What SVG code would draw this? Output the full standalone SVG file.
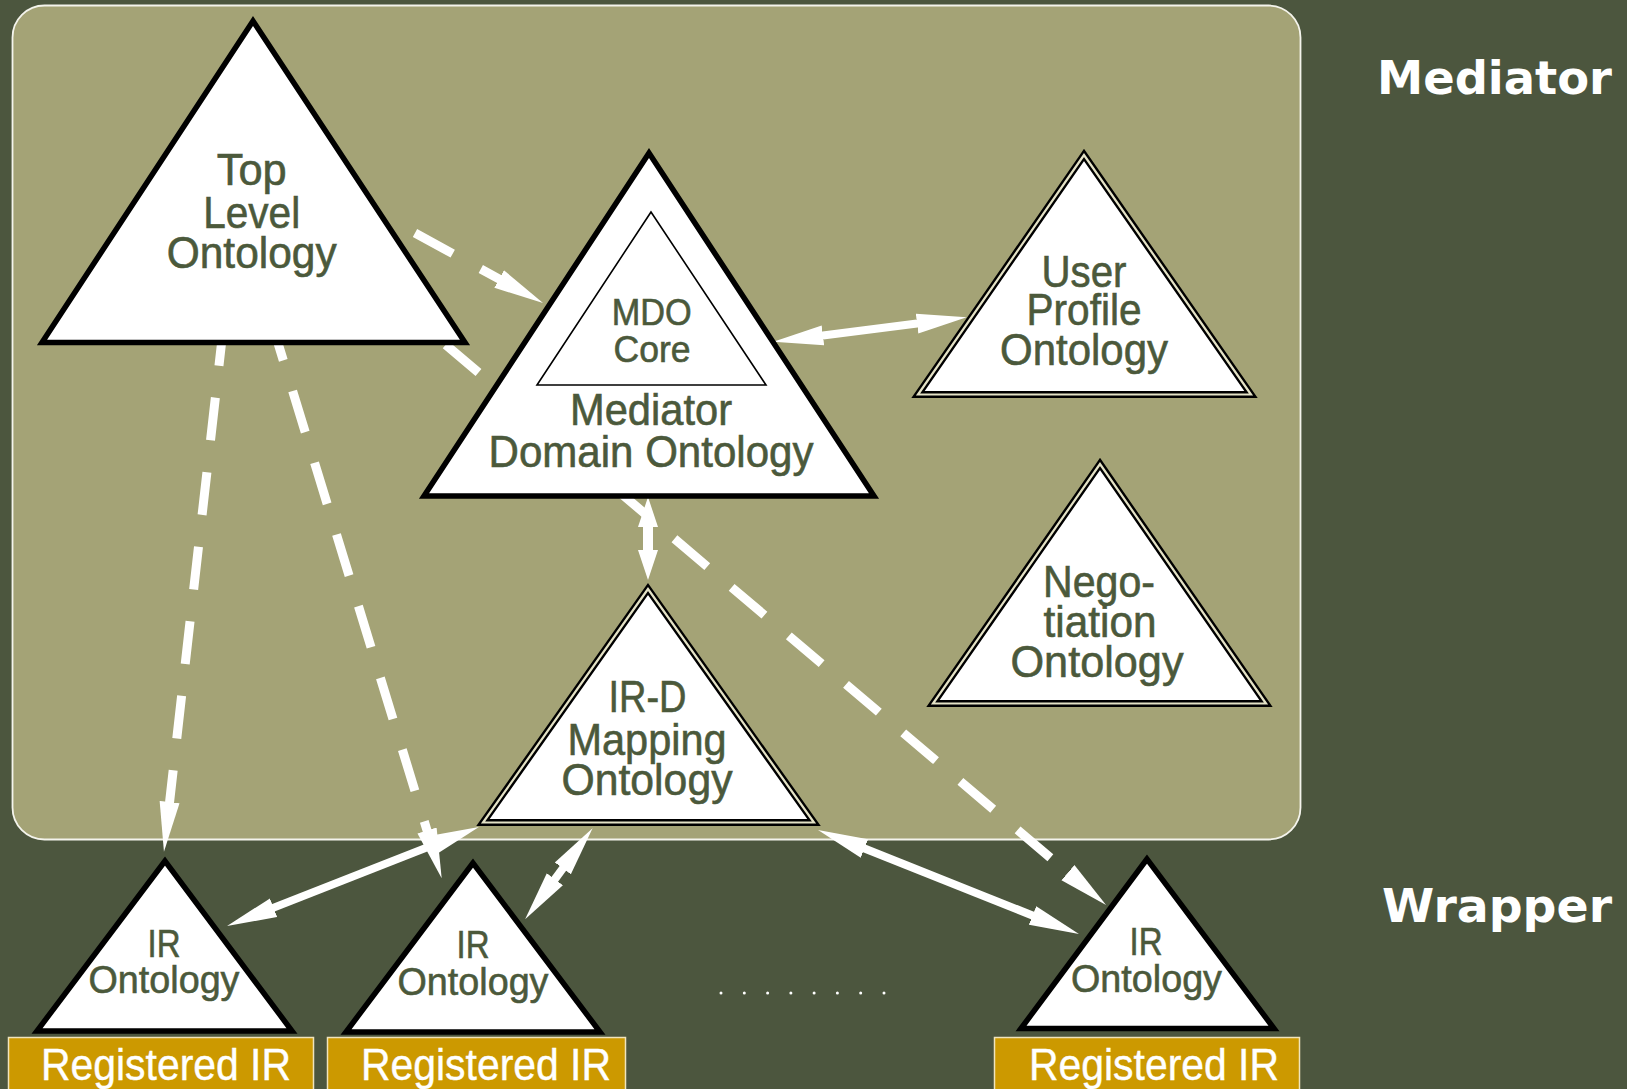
<svg xmlns="http://www.w3.org/2000/svg" width="1627" height="1089" viewBox="0 0 1627 1089">
<style>
.lbl{font-family:"Liberation Sans",Arial,sans-serif;fill:#4b593b;stroke:#4b593b;stroke-width:0.6;text-anchor:middle;}
.f44{font-size:44px;}
.f37{font-size:37px;}
.f39{font-size:39px;}
.reg{font-family:"Liberation Sans",Arial,sans-serif;font-size:44px;fill:#ffffff;stroke:#ffffff;stroke-width:0.4;}
.side{font-family:"DejaVu Sans",Verdana,sans-serif;font-weight:bold;font-size:47px;fill:#ffffff;text-anchor:end;}
.tri{fill:#ffffff;stroke:#000000;stroke-width:5.5;stroke-linejoin:miter;}
.dbl{fill:#ffffff;stroke:#000000;stroke-width:7;stroke-linejoin:miter;}
.dblin{fill:none;stroke:#e4e2c6;stroke-width:2.2;stroke-linejoin:miter;}
.dash{fill:none;stroke:#ffffff;stroke-width:9;stroke-dasharray:43 32;}
.solid{fill:none;stroke:#ffffff;stroke-width:8;}
.box{fill:#cc9900;stroke:#f0e4bc;stroke-width:1.5;}
</style>
<defs>
<marker id="ah" viewBox="0 -11 51 22" refX="6" refY="0" markerWidth="51" markerHeight="22" markerUnits="userSpaceOnUse" orient="auto-start-reverse">
<path d="M0,-10 L50,0 L0,10 z" fill="#ffffff"/>
</marker>
<marker id="ah2" viewBox="0 -11 31 22" refX="4" refY="0" markerWidth="31" markerHeight="22" markerUnits="userSpaceOnUse" orient="auto-start-reverse">
<path d="M0,-10 L30,0 L0,10 z" fill="#ffffff"/>
</marker>
</defs>
<rect x="0" y="0" width="1627" height="1089" fill="#4c563e"/>
<rect id="mediator-panel" x="12.5" y="5.5" width="1288" height="834" rx="32" ry="32" fill="#a4a376" stroke="#f4f4ec" stroke-width="1.8"/>
<text class="side" x="1612" y="94" textLength="235" lengthAdjust="spacingAndGlyphs">Mediator</text>
<text class="side" x="1612" y="922" textLength="230" lengthAdjust="spacingAndGlyphs">Wrapper</text>

<g id="connectors">
<path class="dash" d="M415,233 L504.4,281.9" marker-end="url(#ah)"/>
<path class="dash" d="M445.7,344.7 L1072.5,876.5" marker-end="url(#ah)"/>
<path class="dash" d="M223.8,323.1 L168.9,808" marker-end="url(#ah)"/>
<path class="dash" d="M270.7,319.3 L428.8,836.2" marker-end="url(#ah)"/>
<path class="solid" d="M438,843.1 L268,909.9" marker-start="url(#ah)" marker-end="url(#ah)"/>
<path class="solid" d="M566.4,863.6 L551.3,884" marker-start="url(#ah)" marker-end="url(#ah)"/>
<path class="solid" d="M858.9,846.3 L1038.1,917.7" marker-start="url(#ah)" marker-end="url(#ah)"/>
<path class="solid" d="M817,336.2 L923,322.8" marker-start="url(#ah)" marker-end="url(#ah)"/>
<path class="solid" style="stroke-width:10" d="M648,523 L648,554" marker-start="url(#ah2)" marker-end="url(#ah2)"/>
</g>

<g id="top-level-ontology">
<polygon class="tri" points="253,21 42,342.5 465,342.5"/>
<text class="lbl f44" x="251.7" y="185" textLength="70" lengthAdjust="spacingAndGlyphs">Top</text>
<text class="lbl f44" x="251.7" y="228" textLength="97" lengthAdjust="spacingAndGlyphs">Level</text>
<text class="lbl f44" x="251.7" y="268" textLength="170" lengthAdjust="spacingAndGlyphs">Ontology</text>
</g>

<g id="mediator-domain-ontology">
<polygon class="tri" points="649,153 424,496 874,496"/>
<polygon points="651,212 537,385 766,385" fill="#ffffff" stroke="#000000" stroke-width="1.6"/>
<text class="lbl f37" x="651.7" y="325" textLength="80" lengthAdjust="spacingAndGlyphs">MDO</text>
<text class="lbl f37" x="652" y="362" textLength="77" lengthAdjust="spacingAndGlyphs">Core</text>
<text class="lbl f44" x="651" y="425" textLength="162" lengthAdjust="spacingAndGlyphs">Mediator</text>
<text class="lbl f44" x="651" y="467" textLength="325" lengthAdjust="spacingAndGlyphs">Domain Ontology</text>
</g>

<g id="user-profile-ontology">
<polygon class="dbl" points="1084,155 918,394.5 1251,394.5"/>
<polygon class="dblin" points="1084,155 918,394.5 1251,394.5"/>
<text class="lbl f44" x="1084" y="287" textLength="85" lengthAdjust="spacingAndGlyphs">User</text>
<text class="lbl f44" x="1084" y="325" textLength="115" lengthAdjust="spacingAndGlyphs">Profile</text>
<text class="lbl f44" x="1084" y="365" textLength="168" lengthAdjust="spacingAndGlyphs">Ontology</text>
</g>

<g id="negotiation-ontology">
<polygon class="dbl" points="1100,464 933,703.5 1266,703.5"/>
<polygon class="dblin" points="1100,464 933,703.5 1266,703.5"/>
<text class="lbl f44" x="1099" y="597" textLength="112" lengthAdjust="spacingAndGlyphs">Nego-</text>
<text class="lbl f44" x="1100" y="637" textLength="113" lengthAdjust="spacingAndGlyphs">tiation</text>
<text class="lbl f44" x="1097" y="677" textLength="173" lengthAdjust="spacingAndGlyphs">Ontology</text>
</g>

<g id="ird-mapping-ontology">
<polygon class="dbl" points="648,589 483,822.5 814,822.5"/>
<polygon class="dblin" points="648,589 483,822.5 814,822.5"/>
<text class="lbl f44" x="647.5" y="712" textLength="78" lengthAdjust="spacingAndGlyphs">IR-D</text>
<text class="lbl f44" x="647" y="755" textLength="159" lengthAdjust="spacingAndGlyphs">Mapping</text>
<text class="lbl f44" x="647" y="795" textLength="171" lengthAdjust="spacingAndGlyphs">Ontology</text>
</g>

<g id="ir-ontology-1">
<polygon class="tri" points="165,861 37,1031 292,1031"/>
<text class="lbl f39" x="164" y="957" textLength="33" lengthAdjust="spacingAndGlyphs">IR</text>
<text class="lbl f39" x="164" y="993" textLength="151" lengthAdjust="spacingAndGlyphs">Ontology</text>
</g>
<g id="ir-ontology-2">
<polygon class="tri" points="473,863 346,1032 600,1032"/>
<text class="lbl f39" x="473" y="958" textLength="33" lengthAdjust="spacingAndGlyphs">IR</text>
<text class="lbl f39" x="473" y="995" textLength="151" lengthAdjust="spacingAndGlyphs">Ontology</text>
</g>
<g id="ir-ontology-3">
<polygon class="tri" points="1147,859 1021,1028.5 1274,1028.5"/>
<text class="lbl f39" x="1146" y="955" textLength="33" lengthAdjust="spacingAndGlyphs">IR</text>
<text class="lbl f39" x="1146.5" y="992" textLength="151" lengthAdjust="spacingAndGlyphs">Ontology</text>
</g>

<g id="registered-ir-1">
<rect class="box" x="8.5" y="1037.5" width="305" height="60"/>
<text class="reg" x="41" y="1080" textLength="250" lengthAdjust="spacingAndGlyphs">Registered IR</text>
</g>
<g id="registered-ir-2">
<rect class="box" x="327.5" y="1037.5" width="298" height="60"/>
<text class="reg" x="361" y="1080" textLength="250" lengthAdjust="spacingAndGlyphs">Registered IR</text>
</g>
<g id="registered-ir-3">
<rect class="box" x="994.5" y="1037.5" width="305" height="60"/>
<text class="reg" x="1029" y="1080" textLength="250" lengthAdjust="spacingAndGlyphs">Registered IR</text>
</g>

<g id="ellipsis" fill="#ffffff">
<circle cx="721" cy="993" r="1.5"/>
<circle cx="744.3" cy="993" r="1.5"/>
<circle cx="767.6" cy="993" r="1.5"/>
<circle cx="790.9" cy="993" r="1.5"/>
<circle cx="814.1" cy="993" r="1.5"/>
<circle cx="837.4" cy="993" r="1.5"/>
<circle cx="860.7" cy="993" r="1.5"/>
<circle cx="884" cy="993" r="1.5"/>
</g>
</svg>
